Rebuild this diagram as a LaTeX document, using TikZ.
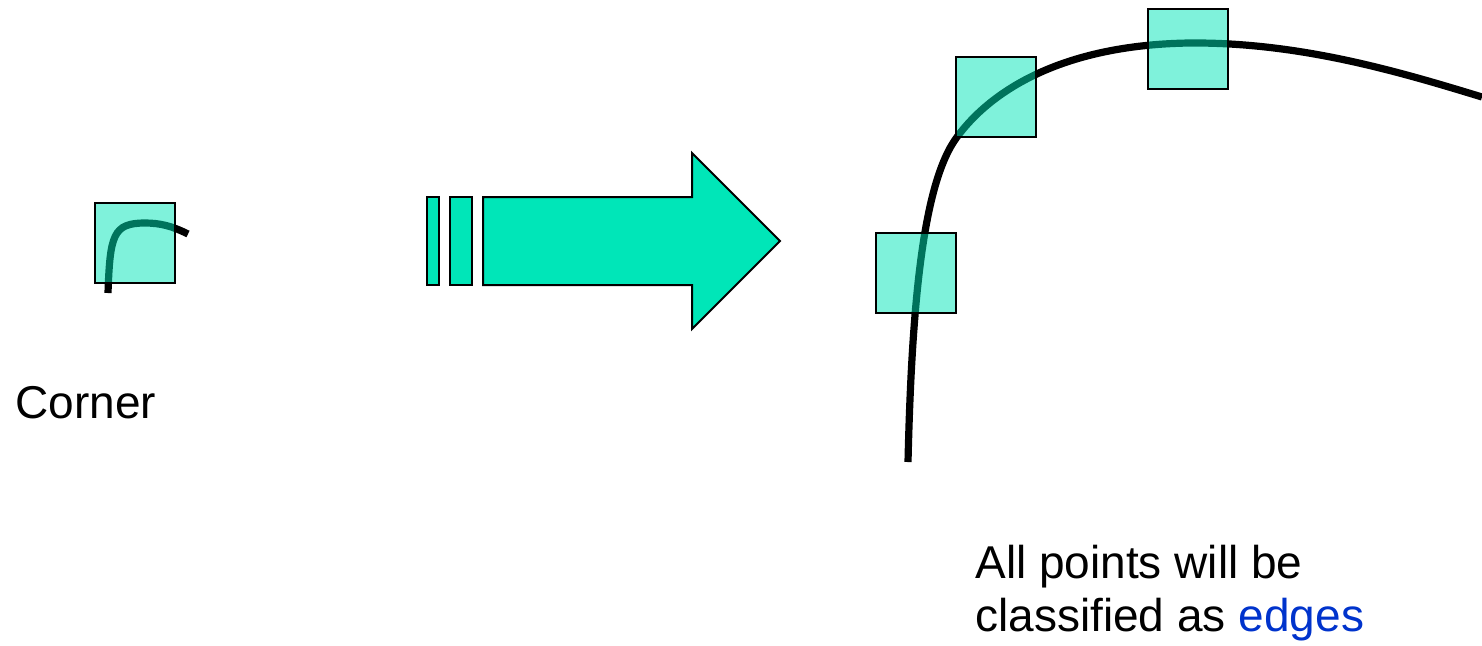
\documentclass[tikz,border=0pt]{standalone}
\usepackage{fontspec}
\setmainfont{Liberation Sans}
\usepackage{xcolor}
\usepackage{tikz}
\usetikzlibrary{positioning}

\definecolor{aqua}{RGB}{0,230,184}
\definecolor{edgeblue}{RGB}{0,51,204}

\begin{document}
\begin{tikzpicture}[
  x=0.5pt, y=-0.5pt,
  window/.style={draw, line width=1pt, fill=aqua, fill opacity=0.5, draw opacity=1, minimum size=40pt, inner sep=0pt},
  bar/.style={draw, line width=1pt, fill=aqua},
  stroke/.style={line width=3.6pt},
  label/.style={inner sep=0pt, font=\fontsize{23}{26.5}\selectfont, align=left}
]
\useasboundingbox (0,0) rectangle (1482,645);

% small patch
\draw[stroke] (108,293) .. controls (110,235) and (113,223) .. (145,223) .. controls (160,223) and (172,226) .. (188,234);
\node[window] (patch) at (135,242.5) {};
\node[label, anchor=base west] (corner) at (15,418) {Corner};

% block arrow
\draw[bar] (427,197) rectangle (439,285);
\draw[bar] (450,197) rectangle (472,285);
\draw[bar] (483,197) -- (692,197) -- (692,153) -- (780,241) -- (692,329) -- (692,285) -- (483,285) -- cycle;

% large curve with windows
\draw[stroke] (908,462) .. controls (912,290) and (925,180) .. (957,137)
  .. controls (990,92) and (1060,45) .. (1189,43)
  .. controls (1300,42) and (1400,72) .. (1482,97);
\node[window] (win1) at (916,273) {};
\node[window] (win2) at (996,97) {};
\node[window] (win3) at (1187.5,49) {};

\node[label, anchor=base west] (result) at (975,631) {All points will be\\classified as \textcolor{edgeblue}{edges}};
\end{tikzpicture}
\end{document}
